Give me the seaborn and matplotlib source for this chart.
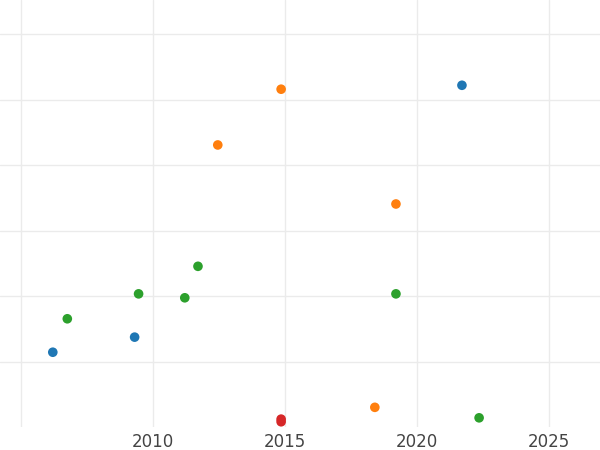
import matplotlib
matplotlib.use("Agg")
import matplotlib.pyplot as plt
import pandas as pd
import seaborn as sns

# values
groups = ["A"] * 3 + ["B"] * 4 + ["C"] * 6 + ["D"] * 2
years = [2006.2, 2009.3, 2021.7,
         2014.85, 2012.45, 2019.2, 2018.4,
         2006.75, 2009.45, 2011.2, 2011.7, 2019.2, 2022.35,
         2014.85, 2014.85]
values = [1.5, 3.8, 42.2,
          41.6, 33.1, 24.1, -6.9,
          6.6, 10.4, 9.8, 14.6, 10.4, -8.5,
          -8.7, -9.1]
palette = ["#1f77b4", "#ff7f0e", "#2ca02c", "#d62728"]
x_ticks = [2005, 2010, 2015, 2020, 2025]
x_labels = ["", "2010", "2015", "2020", "2025"]
y_ticks = [0, 10, 20, 30, 40, 50]

df = pd.DataFrame({"group": groups, "year": years, "value": values})

sns.set_theme(style="whitegrid")
plt.rcParams["font.family"] = ["DejaVu Sans"]

fig = plt.figure(figsize=(6, 4.5), dpi=100)
ax = fig.add_axes([0, 0.0511, 1, 0.9489])
sns.scatterplot(data=df, x="year", y="value", hue="group", palette=palette,
                s=48, linewidth=0, legend=False, ax=ax)

ax.set_xlim(2004.2, 2026.93)
ax.set_ylim(-9.9, 55.2)
ax.set_xticks(x_ticks, x_labels)
ax.set_yticks(y_ticks, [""] * len(y_ticks))
ax.grid(True, color="#ebebeb", linewidth=1.0)
ax.tick_params(axis="x", labelsize=12, labelcolor="#444444", length=0, pad=4)
ax.tick_params(axis="y", length=0)
ax.set_xlabel("")
ax.set_ylabel("")
for spine in ax.spines.values():
    spine.set_visible(False)

fig.savefig("out.png", dpi=100)
